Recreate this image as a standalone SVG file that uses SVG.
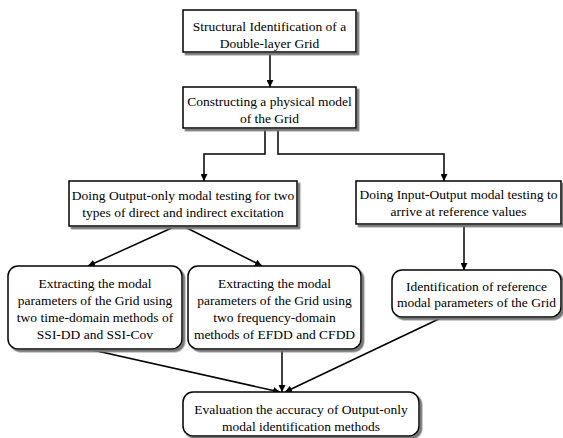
<svg xmlns="http://www.w3.org/2000/svg" width="563" height="438" viewBox="0 0 563 438">
<style>
.box{fill:#fff;stroke:#000;stroke-width:1.5;filter:url(#sh)}
text{font-family:'Liberation Serif','Times New Roman',Times,'DejaVu Serif',serif;font-size:13.5px;fill:#000;text-anchor:middle}
.c{fill:none;stroke:#000;stroke-width:1.5;marker-end:url(#ah)}
</style>
<defs>
<filter id="sh" x="-10%" y="-10%" width="125%" height="135%">
<feDropShadow dx="2.5" dy="2.5" stdDeviation="0.7" flood-color="#777" flood-opacity="1"/>
</filter>
<marker id="ah" viewBox="0 0 10 10" refX="10" refY="5" markerWidth="7" markerHeight="7" markerUnits="userSpaceOnUse" orient="auto">
<path d="M0,0 L10,5 L0,10 z" fill="#000"/>
</marker>
</defs>
<rect width="563" height="438" fill="#fff"/>
<g id="connectors">
<path class="c" d="M270,52 V87"/>
<path class="c" d="M265,128 V154 H204 V181"/>
<path class="c" d="M278,128 V154 H444 V181"/>
<path class="c" d="M176,226 L88,266"/>
<path class="c" d="M183,226 L262,266"/>
<path class="c" d="M464,224 V270"/>
<path class="c" d="M88,349 L280,392"/>
<path class="c" d="M282,349 V392"/>
<path class="c" d="M443,317 L285,392"/>
</g>
<g id="n1" font-family="Liberation Serif, serif">
<rect class="box" x="183" y="10" width="173" height="42"/>
<text x="269.5" y="30.5">Structural Identification of a</text>
<text x="269.5" y="47.5">Double-layer Grid</text>
</g>
<g id="n2">
<rect class="box" x="183" y="87" width="173" height="41"/>
<text x="269.5" y="105.5">Constructing a physical model</text>
<text x="269.5" y="122.5">of the Grid</text>
</g>
<g id="n3">
<rect class="box" x="69" y="181" width="228" height="45"/>
<text x="183" y="199.5">Doing Output-only modal testing for two</text>
<text x="183" y="216.5">types of direct and indirect excitation</text>
</g>
<g id="n4">
<rect class="box" x="356" y="181" width="205" height="43"/>
<text x="458.5" y="198.5">Doing Input-Output modal testing to</text>
<text x="458.5" y="215.5">arrive at reference values</text>
</g>
<g id="n5">
<rect class="box" x="8" y="266" width="174" height="83" rx="10"/>
<text x="95" y="287.5">Extracting the modal</text>
<text x="95" y="304.5">parameters of the Grid using</text>
<text x="95" y="321.5">two time-domain methods of</text>
<text x="95" y="338.5">SSI-DD and SSI-Cov</text>
</g>
<g id="n6">
<rect class="box" x="188" y="266" width="173" height="83" rx="10"/>
<text x="274.5" y="287.5">Extracting the modal</text>
<text x="274.5" y="304.5">parameters of the Grid using</text>
<text x="274.5" y="321.5">two frequency-domain</text>
<text x="274.5" y="338.5">methods of EFDD and CFDD</text>
</g>
<g id="n7">
<rect class="box" x="392" y="270" width="169" height="47" rx="10"/>
<text x="476.5" y="290.5">Identification of reference</text>
<text x="476.5" y="306.5">modal parameters of the Grid</text>
</g>
<g id="n8">
<rect class="box" x="183" y="392" width="236" height="44" rx="10"/>
<text x="301" y="413.5">Evaluation the accuracy of Output-only</text>
<text x="301" y="430.5">modal identification methods</text>
</g>
</svg>
